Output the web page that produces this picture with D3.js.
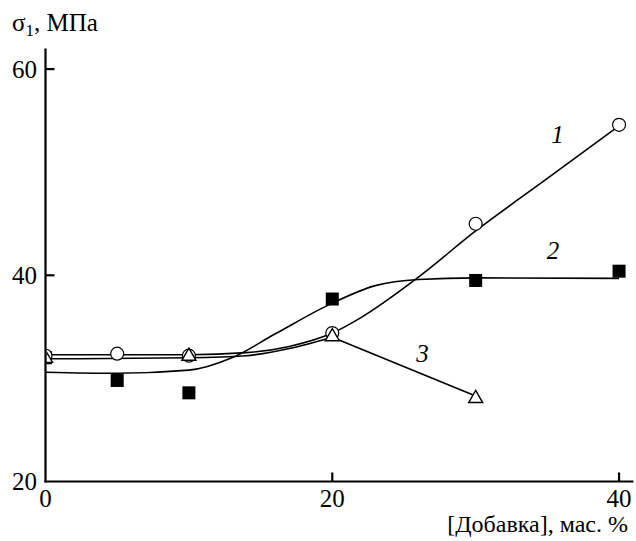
<!DOCTYPE html>
<html>
<head>
<meta charset="utf-8">
<script src="https://cdn.jsdelivr.net/npm/d3@7"></script>
<style>
  html, body { margin: 0; padding: 0; background: #fff; }
  svg { display: block; }
</style>
</head>
<body>
<div id="chart"></div>
<script>
// measured points
var pts1X = [0, 5, 10, 20, 30, 40];
var pts1Y = [32.2, 32.4, 32.2, 34.4, 45.0, 54.6];
var pts2X = [0, 5, 10, 20, 30, 40];
var pts2Y = [32.0, 29.8, 28.6, 37.7, 39.5, 40.4];
var pts3X = [0, 10, 20, 30];
var pts3Y = [31.9, 32.1, 34.0, 28.0];

// fitted curves
var fit1X = [0, 5, 10, 14, 17, 20, 22, 25.8, 30, 35, 40];
var fit1Y = [32.3, 32.3, 32.3, 32.5, 33.1, 34.4, 35.9, 39.6, 44.3, 49.4, 54.5];
var fit2X = [0, 5, 10, 13, 16, 20, 23, 26, 30, 40];
var fit2Y = [30.6, 30.5, 30.8, 32.0, 34.3, 37.3, 39.0, 39.6, 39.75, 39.7];
var fit3X = [0, 10, 14, 17, 20];
var fit3Y = [31.9, 32.0, 32.2, 32.9, 34.0];
var fit3bX = [20, 30];
var fit3bY = [34.0, 28.3];

var xTicks = [0, 20, 40];
var yTicks = [20, 40, 60];
var curveLabels = ["1", "2", "3"];
var labelX = [35.7, 35.4, 26.3];
var labelY = [52.8, 41.6, 31.6];

var serif = "'Liberation Serif', 'Times New Roman', Times, 'DejaVu Serif', serif";
var dim = { width: 636, height: 541 };
var x = d3.scaleLinear().domain([0, 41]).range([45.5, 633.4]);
var y = d3.scaleLinear().domain([20, 62]).range([481.5, 48.5]);

var svg = d3.select("#chart").append("svg")
    .attr("width", dim.width)
    .attr("height", dim.height)
    .attr("font-family", serif);

svg.append("defs").append("clipPath").attr("id", "plotclip")
    .append("rect")
    .attr("x", x(0) + 1).attr("y", 0)
    .attr("width", dim.width).attr("height", y(20));

function zip(xs, ys) { return xs.map(function(v, i) { return [v, ys[i]]; }); }

var smooth = d3.line().x(function(d) { return x(d[0]); }).y(function(d) { return y(d[1]); })
    .curve(d3.curveMonotoneX);
var straight = d3.line().x(function(d) { return x(d[0]); }).y(function(d) { return y(d[1]); });

var curves = svg.append("g").attr("fill", "none").attr("stroke", "#000").attr("stroke-width", 1.6);
curves.append("path").attr("d", smooth(zip(fit1X, fit1Y)));
curves.append("path").attr("d", smooth(zip(fit2X, fit2Y)));
curves.append("path").attr("d", smooth(zip(fit3X, fit3Y)));
curves.append("path").attr("d", straight(zip(fit3bX, fit3bY)));

var marks = svg.append("g").attr("clip-path", "url(#plotclip)");

marks.selectAll("rect.sq").data(zip(pts2X, pts2Y)).enter().append("rect")
    .attr("class", "sq")
    .attr("x", function(d) { return x(d[0]) - 6.5; })
    .attr("y", function(d) { return y(d[1]) - 6.5; })
    .attr("width", 13).attr("height", 13)
    .attr("fill", "#000");

marks.selectAll("circle").data(zip(pts1X, pts1Y)).enter().append("circle")
    .attr("cx", function(d) { return x(d[0]); })
    .attr("cy", function(d) { return y(d[1]); })
    .attr("r", 6.5)
    .attr("fill", "#fff").attr("stroke", "#000").attr("stroke-width", 1.2);

var tri = d3.symbol().type(d3.symbolTriangle).size(85);
marks.selectAll("path.tri").data(zip(pts3X, pts3Y)).enter().append("path")
    .attr("class", "tri")
    .attr("d", tri)
    .attr("transform", function(d) { return "translate(" + x(d[0]) + "," + (y(d[1]) - 0.5) + ")"; })
    .attr("fill", "#fff").attr("stroke", "#000").attr("stroke-width", 1.4);

// axes
var axes = svg.append("g").attr("stroke", "#000").attr("stroke-width", 2.2);
axes.append("line").attr("x1", x(0)).attr("x2", x(0)).attr("y1", y(62)).attr("y2", y(20) + 1.1);
axes.append("line").attr("x1", x(0) - 1.1).attr("x2", x(41)).attr("y1", y(20)).attr("y2", y(20));
axes.selectAll("line.yt").data(yTicks.slice(1)).enter().append("line")
    .attr("x1", x(0)).attr("x2", x(0) + 9)
    .attr("y1", function(d) { return y(d); }).attr("y2", function(d) { return y(d); });
axes.selectAll("line.xt").data(xTicks.slice(1)).enter().append("line")
    .attr("x1", function(d) { return x(d); }).attr("x2", function(d) { return x(d); })
    .attr("y1", y(20)).attr("y2", y(20) - 9);

svg.selectAll("text.yl").data(yTicks).enter().append("text")
    .attr("x", 37).attr("y", function(d) { return y(d); })
    .attr("dy", "0.34em")
    .attr("text-anchor", "end")
    .attr("font-size", 25)
    .text(function(d) { return d; });

svg.selectAll("text.xl").data(xTicks).enter().append("text")
    .attr("x", function(d) { return x(d); }).attr("y", 507)
    .attr("text-anchor", "middle")
    .attr("font-size", 25)
    .text(function(d) { return d; });

var title = svg.append("text").attr("x", 12).attr("y", 31).attr("font-size", 25);
title.append("tspan").text("σ");
title.append("tspan").attr("font-size", 17).attr("dy", 5).text("1");
title.append("tspan").attr("dy", -5).text(", МПа");

svg.append("text")
    .attr("x", 628).attr("y", 532)
    .attr("text-anchor", "end")
    .attr("font-size", 24)
    .text("[Добавка], мас. %");

svg.selectAll("text.cl").data(curveLabels).enter().append("text")
    .attr("x", function(d, i) { return x(labelX[i]); })
    .attr("y", function(d, i) { return y(labelY[i]); })
    .attr("text-anchor", "middle")
    .attr("font-size", 25)
    .attr("font-style", "italic")
    .text(function(d) { return d; });
</script>
</body>
</html>
